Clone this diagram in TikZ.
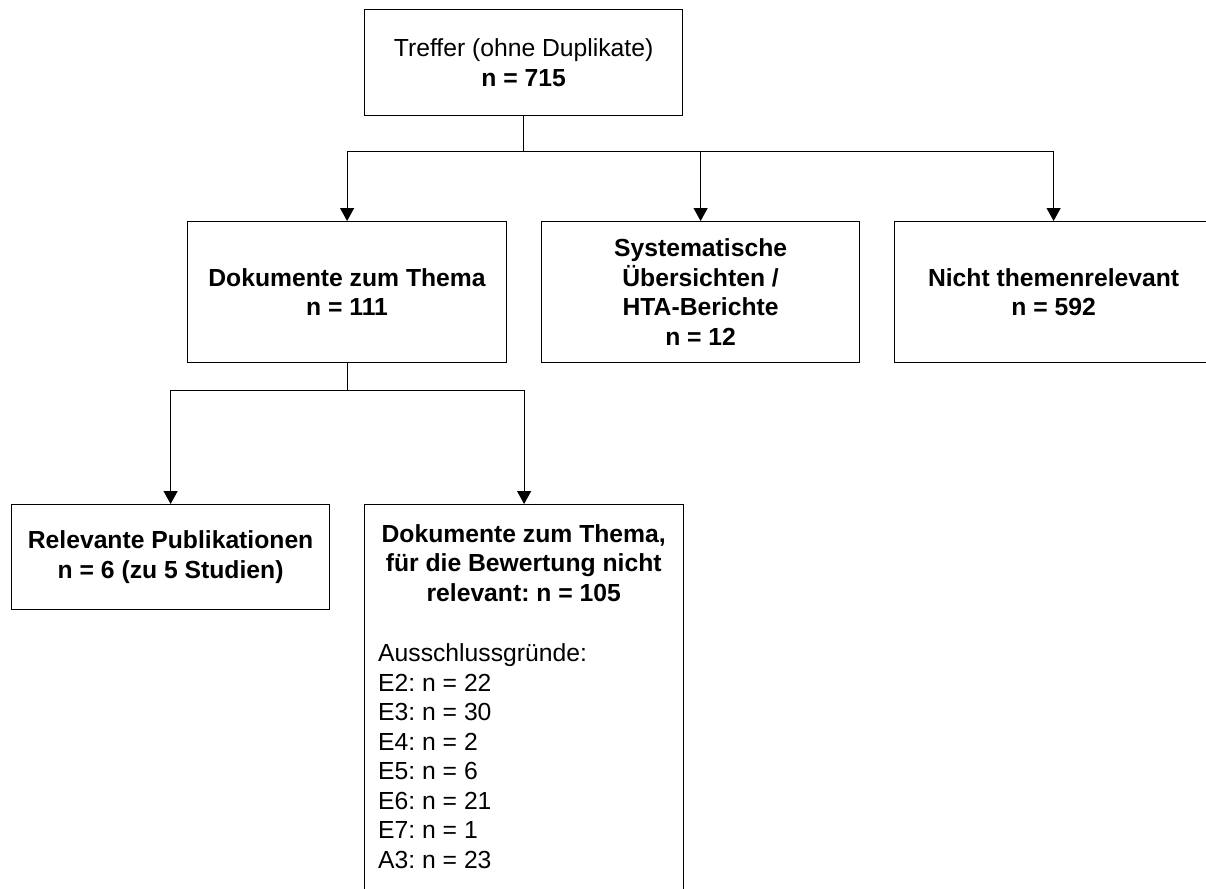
\documentclass[tikz,border=0pt]{standalone}
\usepackage{fontspec}
\setmainfont{Liberation Sans}
\frenchspacing
\usetikzlibrary{arrows.meta,calc}
\tikzset{
  box/.style={draw=black, line width=1.2pt, inner sep=0pt, align=center, anchor=north west,
    font=\fontsize{24.7}{29.5}\selectfont},
  conn/.style={line width=1.2pt, draw=black},
  arr/.style={conn, -{Triangle[width=14pt,length=13pt]}}
}
\begin{document}
\begin{tikzpicture}[x=1pt,y=1pt]
\useasboundingbox (0,0) rectangle (1206,-888);
\node[box, minimum width=318pt, minimum height=106pt] (b1) at (364,-9)
  {Treffer (ohne Duplikate)\\\textbf{n = 715}};
\node[box, minimum width=319pt, minimum height=141pt] (b2) at (187,-221)
  {\textbf{Dokumente zum Thema}\\\textbf{n = 111}};
\node[box, minimum width=318pt, minimum height=141pt] (b3) at (541,-221)
  {\textbf{Systematische}\\\textbf{Übersichten /}\\\textbf{HTA-Berichte}\\\textbf{n = 12}};
\node[box, minimum width=318pt, minimum height=141pt] (b4) at (894,-221)
  {\textbf{Nicht themenrelevant}\\\textbf{n = 592}};
\node[box, minimum width=318pt, minimum height=105pt] (b5) at (11,-504)
  {\textbf{Relevante Publikationen}\\\textbf{n = 6 (zu 5 Studien)}};
\node[box, minimum width=319pt, minimum height=430pt] (b6) at (364,-504) {};
\node[anchor=base west, inner sep=0pt, font=\fontsize{24.7}{29.5}\selectfont] (b6t) at (378,-542)
  {\parbox[t]{291pt}{\frenchspacing\centering\bfseries Dokumente zum Thema,\\ für die Bewertung nicht\\ relevant: n = 105\par
   \vspace{31pt}\raggedright\mdseries Ausschlussgründe:\\ E2: n = 22\\ E3: n = 30\\ E4: n = 2\\ E5: n = 6\\ E6: n = 21\\ E7: n = 1\\ A3: n = 23}};
\coordinate (j1) at ($(b1.south)+(0,-35)$);
\coordinate (j2) at ($(b2.south)+(0,-27)$);
\draw[conn] (b1.south) -- (j1);
\draw[arr] (j1) -| (b2.north);
\draw[arr] (j1) -| (b3.north);
\draw[arr] (j1) -| (b4.north);
\draw[conn] (b2.south) -- (j2);
\draw[arr] (j2) -| (b5.north);
\draw[arr] (j2) -| (b6.north);
\end{tikzpicture}
\end{document}
